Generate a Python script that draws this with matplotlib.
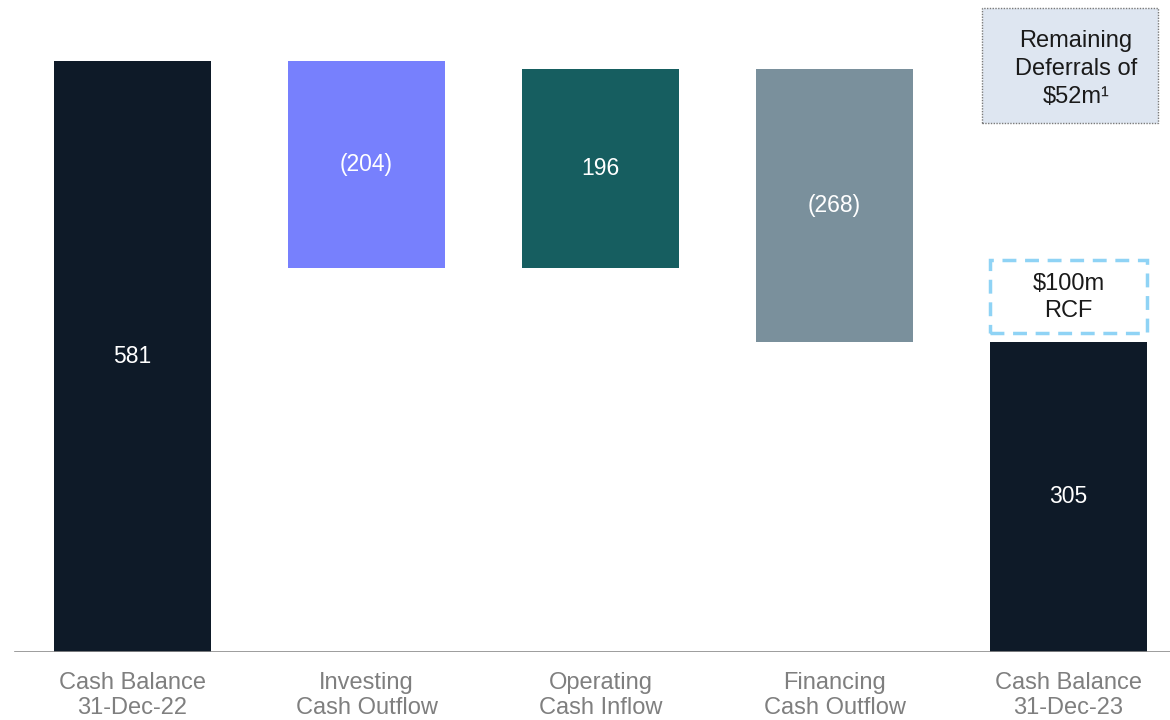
import matplotlib.pyplot as plt
from matplotlib.patches import Rectangle

plt.rcParams['font.family'] = ['Liberation Sans', 'DejaVu Sans']

# cash bridge, $m
categories = ['Cash Balance\n31-Dec-22', 'Investing\nCash Outflow', 'Operating\nCash Inflow',
              'Financing\nCash Outflow', 'Cash Balance\n31-Dec-23']
opening = 581
movements = [-204, 196, -268]
closing = 305
value_labels = ['581', '(204)', '196', '(268)', '305']
bar_colors = ['#0e1a28', '#7780fd', '#165e60', '#7a909c', '#0e1a28']

rcf_text = '$100m\nRCF'
deferral_text = 'Remaining\nDeferrals of\n$52m\u00b9'

# floating bar bottoms/heights for the waterfall
bottoms, heights = [0], [opening]
level = opening
for m in movements:
    new_level = level + m
    bottoms.append(min(level, new_level))
    heights.append(abs(m))
    level = new_level
bottoms.append(0)
heights.append(closing)

fig = plt.figure(figsize=(11.7, 7.2), dpi=100)
ax = fig.add_axes([0, 68 / 720, 1, 652 / 720])
x = range(len(categories))
ax.bar(x, heights, bottom=bottoms, width=0.671, color=bar_colors, zorder=2)

for xi, b, h, lab in zip(x, bottoms, heights, value_labels):
    ax.text(xi, b + h / 2, lab, ha='center', va='center', color='white', fontsize=16.5)

ax.set_xlim(-0.566, 4.434)
ax.set_ylim(0, 640.5)
ax.axhline(0, xmin=(-0.5 + 0.566) / 5.0, xmax=1, color='#8c8c8c', lw=1.2, zorder=3)
for s in ax.spines.values():
    s.set_visible(False)
ax.set_xticks([])
ax.set_yticks([])

for xi, cat in zip(x, categories):
    ax.text(xi, -42.5, cat, ha='center', va='center', color='#7f7f7f', fontsize=17,
            linespacing=1.19, clip_on=False)

# revolving credit facility, dashed box above the closing balance
rcf_bottom = closing + 8
ax.add_patch(Rectangle((4 - 0.335, rcf_bottom), 0.67, 72, fill=False,
                       edgecolor='#8fd3f5', lw=2.5, linestyle=(0, (4, 2.5)), zorder=2))
ax.text(4, rcf_bottom + 35, rcf_text, ha='center', va='center', color='#1a1a1a',
        fontsize=17, linespacing=1.32)

# remaining deferrals note
ax.add_patch(Rectangle((4 - 0.368, 519.5), 0.752, 113, facecolor='#dee6f1',
                       edgecolor='#7a7a7a', lw=1.0, linestyle=(0, (1, 1)), zorder=2))
ax.text(4.032, 573, deferral_text, ha='center', va='center', color='#1a1a1a',
        fontsize=17, linespacing=1.36)

fig.savefig('out.png', dpi=100, facecolor='white')
